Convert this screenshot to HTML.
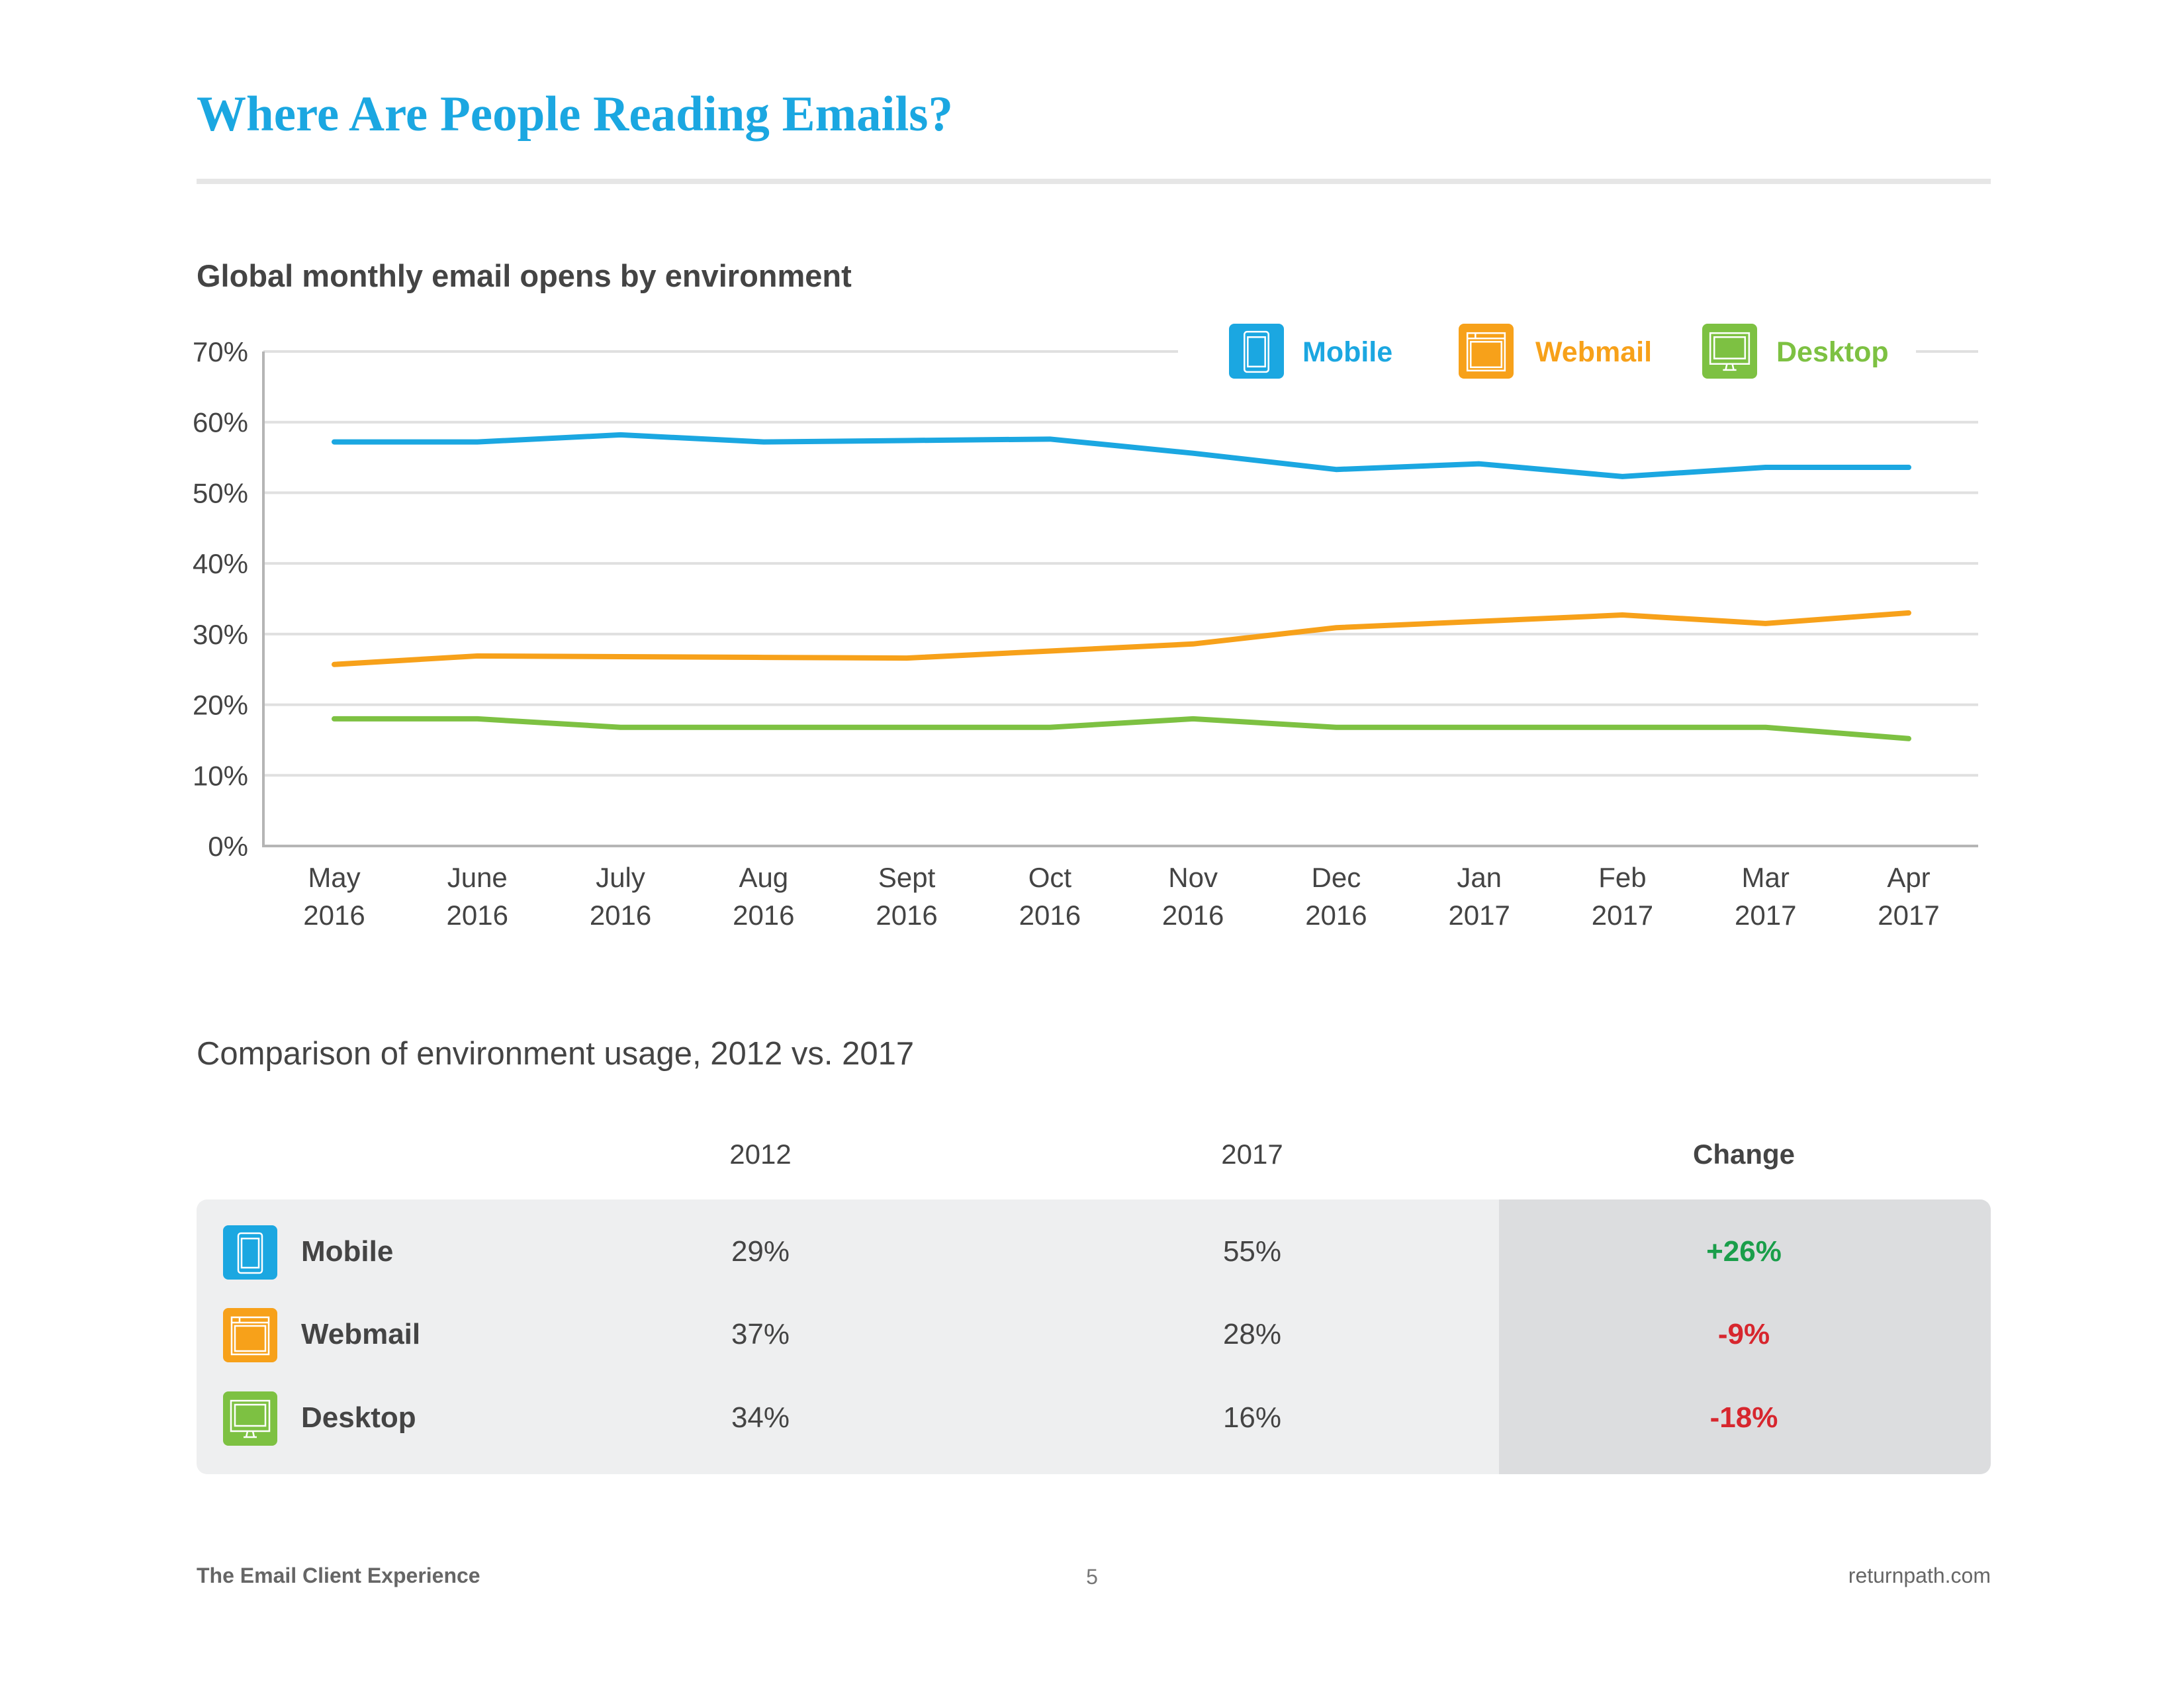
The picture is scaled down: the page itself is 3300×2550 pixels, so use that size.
<!DOCTYPE html>
<html><head><meta charset="utf-8">
<style>
body{margin:0;width:3300px;height:2550px;background:#fff;position:relative;overflow:hidden;font-family:"Liberation Sans Narrow","Liberation Sans",sans-serif;color:#444;}
.abs{position:absolute;white-space:nowrap;}
</style></head>
<body>
<div class="abs" style="left:297px;top:130px;font-family:'Liberation Serif',serif;font-weight:bold;font-size:75px;color:#1ba7e1;">Where Are People Reading Emails?</div>
<div class="abs" style="left:297px;top:270px;width:2711px;height:8px;background:#e6e6e6;"></div>
<div class="abs" style="left:297px;top:389px;font-size:47px;font-weight:bold;color:#444;">Global monthly email opens by environment</div>

<svg id="chart" width="3300" height="1450" style="position:absolute;left:0;top:0;"></svg>

<div class="abs" style="left:297px;top:1564px;font-size:49px;color:#444;">Comparison of environment usage, 2012 vs. 2017</div>
<div class="abs" style="left:1049px;width:200px;text-align:center;top:1720px;font-size:42px;">2012</div>
<div class="abs" style="left:1792px;width:200px;text-align:center;top:1720px;font-size:42px;">2017</div>
<div class="abs" style="left:2485px;width:300px;text-align:center;top:1720px;font-size:42px;font-weight:bold;">Change</div>

<div class="abs" style="left:297px;top:1812px;width:2711px;height:415px;background:#eeeff0;border-radius:16px;overflow:hidden;">
  <div style="position:absolute;left:1968px;top:0;width:743px;height:415px;background:#dcdddf;"></div>
</div>

<div id="rows"></div>

<div class="abs" style="left:297px;top:2362px;font-size:32px;font-weight:bold;color:#666;">The Email Client Experience</div>
<div class="abs" style="left:1600px;width:100px;text-align:center;top:2364px;font-size:32px;color:#777;">5</div>
<div class="abs" style="right:292px;top:2362px;font-size:32px;color:#666;">returnpath.com</div>

<script>
const months = ["May","June","July","Aug","Sept","Oct","Nov","Dec","Jan","Feb","Mar","Apr"];
const years = ["2016","2016","2016","2016","2016","2016","2016","2016","2017","2017","2017","2017"];
const mobile = [57.2,57.2,58.2,57.2,57.4,57.6,55.6,53.3,54.1,52.3,53.6,53.6];
const webmail = [25.7,26.9,26.8,26.7,26.6,27.6,28.6,30.9,31.8,32.7,31.5,33.0];
const desktop = [18.0,18.0,16.8,16.8,16.8,16.8,18.0,16.8,16.8,16.8,16.8,15.2];
const yTicks = [0,10,20,30,40,50,60,70];
const tableNames = ["Mobile","Webmail","Desktop"];
const v2012 = ["29%","37%","34%"];
const v2017 = ["55%","28%","16%"];
const changes = ["+26%","-9%","-18%"];

const NS="http://www.w3.org/2000/svg";
const svg=document.getElementById('chart');
const X0=398,X1=2989,Y0=1278,Y70=531;
const y=v=>Y0-(v/70)*(Y0-Y70);
const x=i=>505+i*(2884-505)/(months.length-1);
function mk(t,a,p){const e=document.createElementNS(NS,t);for(const k in a)e.setAttribute(k,a[k]);(p||svg).appendChild(e);return e;}
const colors={Mobile:"#1ba7e1",Webmail:"#f7a11a",Desktop:"#7dc142"};

yTicks.forEach(t=>{
  if(t>0){const g=mk('line',{x1:X0,x2:X1,y1:y(t),y2:y(t),stroke:'#e0e0e0','stroke-width':4});
  
  }
  const l=mk('text',{x:375,y:y(t)+15,'text-anchor':'end','font-size':42,fill:'#444','font-family':'"Liberation Sans Narrow","Liberation Sans",sans-serif'});
  l.textContent=t+'%';
  
  
});
const ax=mk('path',{d:`M${X0} ${Y70}V${Y0}H${X1}`,fill:'none',stroke:'#b5b5b5','stroke-width':4});


months.forEach((m,i)=>{
  const t=mk('text',{x:x(i),y:1340,'text-anchor':'middle','font-size':42,fill:'#444','font-family':'"Liberation Sans Narrow","Liberation Sans",sans-serif'});
  t.textContent=m;
  
  
  const t2=mk('text',{x:x(i),y:1397,'text-anchor':'middle','font-size':42,fill:'#444','font-family':'"Liberation Sans Narrow","Liberation Sans",sans-serif'});
  t2.textContent=years[i];
  
  
});
[["Mobile",mobile],["Webmail",webmail],["Desktop",desktop]].forEach(([n,d])=>{
  const p=mk('polyline',{points:d.map((v,i)=>x(i)+','+y(v)).join(' '),fill:'none',stroke:colors[n],'stroke-width':8,'stroke-linecap':'round','stroke-linejoin':'round'});
  
  
});
const lb=mk('rect',{x:1780,y:480,width:1115,height:100,fill:'#fff'});



function icon(parent,n,ix,iy,s){
  const g=mk('g',{transform:`translate(${ix},${iy}) scale(${s/82})`},parent);
  mk('rect',{x:0,y:0,width:82,height:82,rx:8,fill:colors[n]},g);
  const st={fill:'none',stroke:'#fff','stroke-width':2.5};
  if(n==="Mobile"){mk('rect',Object.assign({x:23,y:12,width:36,height:60,rx:4},st),g);mk('rect',Object.assign({x:28,y:20,width:26,height:44},st),g);}
  else if(n==="Webmail"){mk('rect',Object.assign({x:13,y:14,width:56,height:56},st),g);mk('line',Object.assign({x1:13,x2:69,y1:22,y2:22},st),g);mk('line',Object.assign({x1:25,x2:25,y1:14,y2:22},st),g);mk('rect',Object.assign({x:18,y:27,width:46,height:38},st),g);}
  else{mk('rect',Object.assign({x:12,y:14,width:58,height:46},st),g);mk('rect',Object.assign({x:18,y:20,width:46,height:32},st),g);mk('path',Object.assign({d:'M37 60L35 69M45 60L47 69M31 69H51'},st),g);}
  return g;
}
const legendPos=[[1857,1968],[2204,2320],[2572,2684]];
tableNames.forEach((n,i)=>{
  const g=icon(svg,n,legendPos[i][0],489,83);
  
  
  const t=mk('text',{x:legendPos[i][1],y:546,'font-size':43,'font-weight':'bold',fill:colors[n],'font-family':'"Liberation Sans Narrow","Liberation Sans",sans-serif'});
  t.textContent=n;
  
  
});

const rows=document.getElementById('rows');
const rowY=[1892,2017,2143];
tableNames.forEach((n,i)=>{
  const s=document.createElementNS(NS,'svg');
  s.setAttribute('width',82);s.setAttribute('height',82);
  s.style.cssText=`position:absolute;left:337px;top:${rowY[i]-41}px;`;
  
  
  icon(s,n,0,0,82);
  rows.appendChild(s);
  const cells=[[455,null,n,'bold','#444'],[1049,200,v2012[i],'normal','#444'],[1792,200,v2017[i],'normal','#444'],[2485,300,changes[i],'bold',changes[i][0]==='+'?'#1a9e4a':'#d7262e']];
  cells.forEach((c,j)=>{
    const d=document.createElement('div');
    d.className='abs';
    d.style.cssText=`left:${c[0]}px;top:${rowY[i]-26}px;font-size:44px;font-weight:${c[3]};color:${c[4]};`+(c[1]?`width:${c[1]}px;text-align:center;`:'');
    d.textContent=c[2];
    
    
    rows.appendChild(d);
  });
});
</script>
</body></html>
